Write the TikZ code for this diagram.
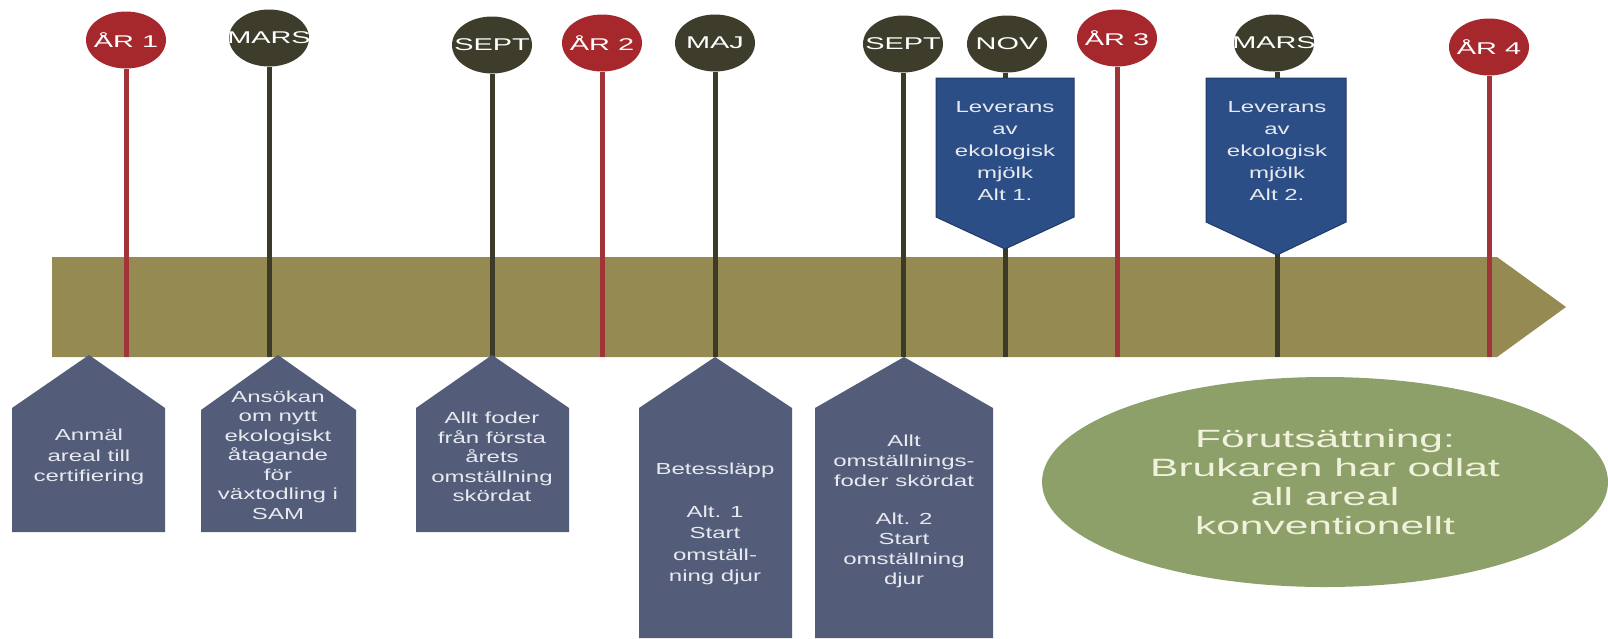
\documentclass[tikz,border=0pt]{standalone}
\usepackage{fontspec}
\setmainfont{Liberation Sans}
\newfontfamily\circfont[FakeStretch=1.7]{Liberation Sans}
\newfontfamily\boxfont[FakeStretch=1.5]{Liberation Sans}
\newfontfamily\ellfont[FakeStretch=1.7]{Liberation Sans}
\usetikzlibrary{shapes.geometric}
\definecolor{yearred}{RGB}{166,40,44}
\definecolor{monthdk}{RGB}{62,60,42}
\definecolor{linered}{RGB}{160,52,56}
\definecolor{linedk}{RGB}{60,58,40}
\definecolor{barc}{RGB}{148,138,82}
\definecolor{callc}{RGB}{44,78,134}
\definecolor{boxc}{RGB}{83,93,122}
\definecolor{ellc}{RGB}{142,160,106}
\definecolor{elltext}{RGB}{240,242,220}
\definecolor{lighttext}{RGB}{232,234,240}
\tikzset{
  yearc/.style={ellipse, fill=yearred, minimum width=80pt, minimum height=57pt, inner sep=0pt,
    text=white, font=\circfont\fontsize{17}{17}\selectfont},
  monthc/.style={yearc, fill=monthdk},
  redln/.style={draw=linered, line width=5pt},
  dkln/.style={draw=linedk, line width=5pt},
  calloutshape/.style={fill=callc, draw=callc!75!black, line width=1pt},
  homeshape/.style={fill=boxc},
  calltxt/.style={align=center, text=lighttext, inner sep=0pt, font=\boxfont\fontsize{16}{22}\selectfont},
  boxtxt/.style={align=center, text=lighttext, inner sep=0pt, font=\boxfont\fontsize{16}{20.5}\selectfont},
  premise/.style={ellipse, fill=ellc, minimum width=566pt, minimum height=210pt, inner sep=0pt,
    align=center, text=elltext, font=\ellfont\fontsize{25}{29}\selectfont}
}
\begin{document}
\begin{tikzpicture}[x=1pt,y=-1pt]
\useasboundingbox (0,0) rectangle (1608,638);
\fill[white] (0,0) rectangle (1608,638);
% timeline bar
\fill[barc] (52,257) -- (1497,257) -- (1566,307) -- (1497,357) -- (52,357) -- cycle;
\coordinate (barbot) at (0,357);
% markers
\node[yearc]  (y1) at (126,40) {\makebox[0pt]{ÅR 1}};
\node[monthc] (m1) at (269,38) {\makebox[0pt]{MARS}};
\node[monthc] (m2) at (492,45) {\makebox[0pt]{SEPT}};
\node[yearc]  (y2) at (602,43) {\makebox[0pt]{ÅR 2}};
\node[monthc] (m3) at (715,43) {\makebox[0pt]{MAJ}};
\node[monthc] (m4) at (903,44) {\makebox[0pt]{SEPT}};
\node[monthc] (m5) at (1007,44) {\makebox[0pt]{NOV}};
\node[yearc]  (y3) at (1117,38) {\makebox[0pt]{ÅR 3}};
\node[monthc] (m6) at (1274,43) {\makebox[0pt]{MARS}};
\node[yearc]  (y4) at (1489,47) {\makebox[0pt]{ÅR 4}};
% stems
\draw[redln] (y1.south) -- (y1.south |- barbot);
\draw[dkln]  (m1.south) -- (m1.south |- barbot);
\draw[dkln]  (m2.south) -- (m2.south |- barbot);
\draw[redln] (y2.south) -- (y2.south |- barbot);
\draw[dkln]  (m3.south) -- (m3.south |- barbot);
\draw[dkln]  (m4.south) -- (m4.south |- barbot);
\draw[dkln]  ([xshift=-2pt]m5.south) -- ([xshift=-2pt]m5.south |- barbot);
\draw[redln] (y3.south) -- (y3.south |- barbot);
\draw[dkln]  ([xshift=3pt]m6.south) -- ([xshift=3pt]m6.south |- barbot);
\draw[redln] (y4.south) -- (y4.south |- barbot);
% callouts above the bar
\fill[calloutshape] (936,78) -- (1074,78) -- (1074,217) -- (1005,249) -- (936,217) -- cycle;
\node[calltxt] (c1) at (1005,151) {Leverans\\av\\ekologisk\\mjölk\\Alt 1.};
\fill[calloutshape] (1206,78) -- (1346,78) -- (1346,222) -- (1277,255) -- (1206,222) -- cycle;
\node[calltxt] (c2) at (1277,151) {Leverans\\av\\ekologisk\\mjölk\\Alt 2.};
% boxes below the bar
\fill[homeshape] (12,532) -- (12,408) -- (89,355) -- (165,408) -- (165,532) -- cycle;
\node[boxtxt] (b1) at (89,457) {Anmäl\\areal till\\certifiering};
\fill[homeshape] (201,532) -- (201,410) -- (278,355) -- (356,410) -- (356,532) -- cycle;
\node[boxtxt, font=\boxfont\fontsize{16}{19.5}\selectfont] (b2) at (278,455) {Ansökan\\om nytt\\ekologiskt\\åtagande\\för\\växtodling i\\SAM};
\fill[homeshape] (416,532) -- (416,408) -- (492,355) -- (569,408) -- (569,532) -- cycle;
\node[boxtxt, font=\boxfont\fontsize{16}{19.5}\selectfont] (b3) at (492,457) {Allt foder\\från första\\årets\\omställning\\skördat};
\fill[homeshape] (639,638) -- (639,408) -- (715,357) -- (792,408) -- (792,638) -- cycle;
\node[boxtxt, font=\boxfont\fontsize{16}{21.5}\selectfont] (b4) at (715,524) {Betessläpp\\[21.5pt]Alt. 1\\Start\\omställ-\\ning djur};
\fill[homeshape] (815,638) -- (815,408) -- (904,357) -- (993,408) -- (993,638) -- cycle;
\node[boxtxt, font=\boxfont\fontsize{16}{20}\selectfont] (b5) at (904,511) {Allt\\omställnings-\\foder skördat\\[18pt]Alt. 2\\Start\\omställning\\djur};
% premise
\node[premise] (pre) at (1325,482) {Förutsättning:\\Brukaren har odlat\\all areal\\konventionellt};
\end{tikzpicture}
\end{document}
